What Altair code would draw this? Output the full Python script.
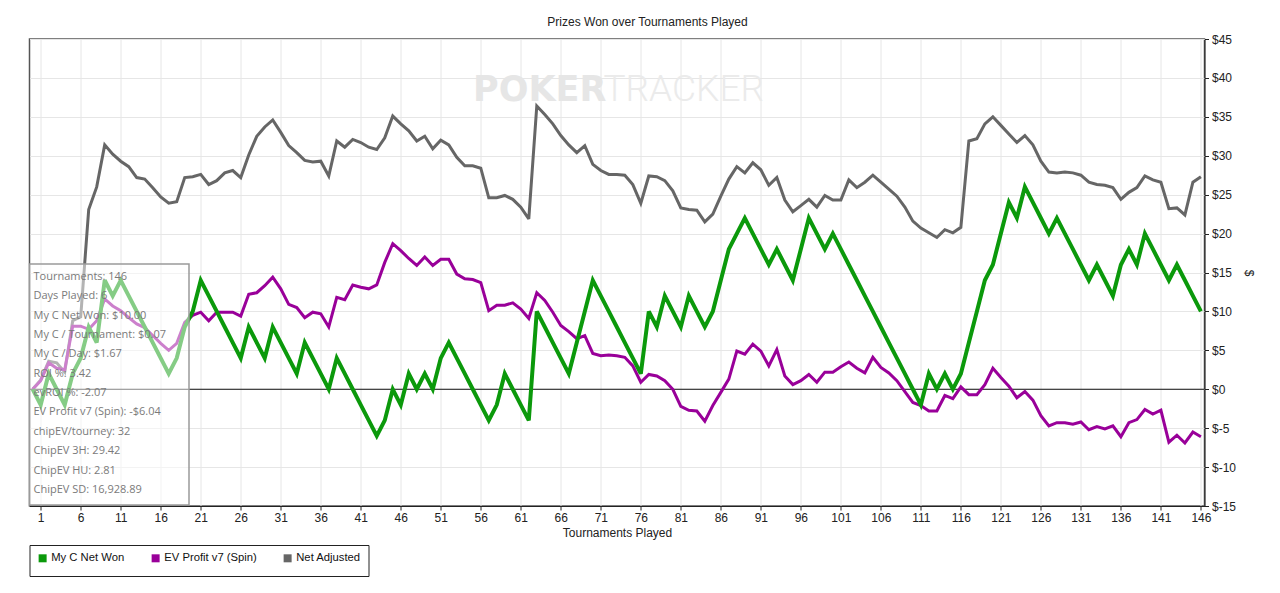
import altair as alt
import pandas as pd

# ---------------- data ----------------
TOURNAMENTS = list(range(0, 147))

MY_C_NET_WON = [
    0, -2, 2, 0, -2, 2, 4, 8, 6, 14,
    12, 14, 12, 10, 8, 6, 4, 2, 4, 8,
    10, 14, 12, 10, 8, 6, 4, 8, 6, 4,
    8, 6, 4, 2, 6, 4, 2, 0, 4, 2,
    0, -2, -4, -6, -4, 0, -2, 2, 0, 2,
    0, 4, 6, 4, 2, 0, -2, -4, -2, 2,
    0, -2, -4, 10, 8, 6, 4, 2, 6, 10,
    14, 12, 10, 8, 6, 4, 2, 10, 8, 12,
    10, 8, 12, 10, 8, 10, 14, 18, 20, 22,
    20, 18, 16, 18, 16, 14, 18, 22, 20, 18,
    20, 18, 16, 14, 12, 10, 8, 6, 4, 2,
    0, -2, 2, 0, 2, 0, 2, 6, 10, 14,
    16, 20, 24, 22, 26, 24, 22, 20, 22, 20,
    18, 16, 14, 16, 14, 12, 16, 18, 16, 20,
    18, 16, 14, 16, 14, 12, 10,
]

EV_PROFIT = [
    0, 1.1, 3.4, 2.7, 2.5, 8.1, 8.1, 7.7, 8.8, 11.6,
    10.7, 10.1, 9.2, 8.4, 7.9, 6.9, 5.9, 5.0, 5.9, 8.6,
    9.5, 9.9, 8.8, 9.9, 9.9, 9.9, 9.4, 12.2, 12.4, 13.3,
    14.4, 12.9, 10.9, 10.5, 9.2, 9.9, 9.7, 8.0, 11.8, 11.5,
    13.4, 13.1, 12.9, 13.4, 16.3, 18.7, 17.8, 16.8, 15.9, 17.0,
    15.9, 16.7, 16.7, 14.8, 14.2, 14.1, 13.7, 10.1, 10.8, 10.8,
    11.1, 10.3, 9.1, 12.4, 11.4, 9.9, 8.2, 7.4, 6.5, 6.9,
    4.6, 4.3, 4.4, 4.3, 4.1, 3.0, 0.9, 1.9, 1.7, 1.1,
    0.0, -2.2, -2.7, -2.8, -4.1, -2.1, -0.4, 1.3, 4.9, 4.5,
    5.8, 4.9, 3.0, 5.1, 1.7, 0.6, 1.1, 1.9, 0.9, 2.2,
    2.2, 2.9, 3.5, 2.7, 2.1, 4.1, 2.8, 2.1, 1.1, -0.3,
    -1.7, -2.1, -2.8, -2.8, -0.8, -1.2, 0.3, -0.7, -0.7, 0.6,
    2.7, 1.5, 0.4, -1.1, -0.3, -1.4, -3.4, -4.7, -4.3, -4.3,
    -4.5, -4.2, -5.2, -4.8, -5.1, -4.7, -6.1, -4.3, -3.9, -2.6,
    -3.2, -2.7, -6.8, -5.9, -6.9, -5.5, -6.1,
]

NET_ADJUSTED = [
    0, 1.2, 3.6, 3.4, 2.2, 8.8, 9.3, 23.1, 26.0, 31.4,
    30.2, 29.3, 28.6, 27.2, 27.0, 25.9, 24.7, 23.9, 24.1, 27.2,
    27.3, 27.6, 26.3, 26.8, 27.8, 28.1, 27.2, 30.1, 32.5, 33.7,
    34.6, 33.0, 31.3, 30.4, 29.4, 29.2, 29.3, 27.4, 31.9, 31.1,
    32.1, 31.7, 31.1, 30.8, 32.3, 35.1, 34.1, 33.2, 31.9, 32.5,
    30.9, 32.0, 31.4, 29.8, 28.7, 28.7, 28.4, 24.6, 24.6, 24.9,
    24.4, 23.4, 21.9, 36.4, 35.3, 34.1, 32.6, 31.4, 30.4, 31.3,
    28.9, 28.1, 27.6, 27.6, 27.5, 26.3, 23.9, 27.4, 27.3, 26.8,
    25.5, 23.3, 23.1, 23.0, 21.5, 22.5, 24.8, 27.0, 28.6, 27.8,
    29.1, 28.2, 26.2, 27.2, 24.3, 22.8, 23.6, 24.4, 23.4, 24.9,
    24.3, 24.3, 26.9, 25.9, 26.6, 27.5, 26.6, 25.7, 24.8, 23.4,
    21.6, 20.7, 20.1, 19.5, 20.5, 20.1, 20.8, 31.9, 32.2, 34.1,
    35.0, 33.9, 32.8, 31.7, 32.6, 31.4, 29.3, 27.9, 27.8, 27.9,
    27.8, 27.5, 26.6, 26.3, 26.2, 25.9, 24.4, 25.3, 25.9, 27.4,
    26.9, 26.6, 23.2, 23.3, 22.4, 26.6, 27.3,
]

SERIES = ["My C Net Won", "EV Profit v7 (Spin)", "Net Adjusted"]
COLORS = ["#0b990b", "#990099", "#666666"]
X_TICKS = list(range(1, 147, 5))
Y_TICKS = list(range(-15, 46, 5))

TITLE = "Prizes Won over Tournaments Played"
X_TITLE = "Tournaments Played"
Y_TITLE = "$"
WATERMARK = ["POKER", "TRACKER"]
INFO_LINES = [
    "Tournaments: 146",
    "Days Played: 6",
    "My C Net Won: $10.00",
    "My C / Tournament: $0.07",
    "My C / Day: $1.67",
    "ROI %: 3.42",
    "evROI %: -2.07",
    "EV Profit v7 (Spin): -$6.04",
    "chipEV/tourney: 32",
    "ChipEV 3H: 29.42",
    "ChipEV HU: 2.81",
    "ChipEV SD: 16,928.89",
]

# ---------------- build table ----------------
n = len(TOURNAMENTS)
df = pd.DataFrame({
    "t": TOURNAMENTS * 3,
    "value": MY_C_NET_WON + EV_PROFIT + NET_ADJUSTED,
    "series": [SERIES[0]] * n + [SERIES[1]] * n + [SERIES[2]] * n,
})
one = pd.DataFrame({"k": [0]})

FONT = "Liberation Sans"

x_scale = alt.Scale(domain=[-0.4, 146.45], nice=False, zero=False)
y_scale = alt.Scale(domain=[-15, 45], nice=False, zero=False)

x_axis = alt.Axis(
    values=X_TICKS, title=X_TITLE, grid=True, gridColor="#e6e6e6",
    domainColor="#222222", tickColor="#222222", tickSize=4,
    labelFont=FONT, labelFontSize=12, labelColor="#222222", labelPadding=2,
    labelFlush=False, labelOverlap=False,
    titleFont=FONT, titleFontSize=12, titleFontWeight="normal",
    titleColor="#222222", titlePadding=4,
)
y_axis = alt.Axis(
    orient="right", values=Y_TICKS, title=Y_TITLE, labelExpr="'$' + datum.value",
    grid=True, gridColor="#e6e6e6", domainColor="#222222", tickColor="#222222",
    tickSize=4, labelFont=FONT, labelFontSize=12, labelColor="#222222",
    labelPadding=3, labelFlush=False, labelOverlap=False,
    titleFont=FONT, titleFontSize=12, titleFontWeight="normal",
    titleColor="#222222", titleAngle=90, titlePadding=6,
)
color_scale = alt.Scale(domain=SERIES, range=COLORS)
legend = alt.Legend(
    title=None, orient="none", legendX=0, legendY=506, direction="horizontal",
    symbolType="square", symbolSize=16, symbolStrokeWidth=4,
    labelFont=FONT, labelFontSize=11.25, labelColor="#111111", labelOffset=3,
    columnPadding=20, padding=7.5, fillColor="white", strokeColor="#222222",
    labelLimit=0,
)


def series_layer(name, width):
    return (
        alt.Chart(df)
        .transform_filter(alt.datum.series == name)
        .mark_line(strokeWidth=width, strokeJoin="miter", strokeMiterLimit=3)
        .encode(
            x=alt.X("t:Q", scale=x_scale, axis=x_axis),
            y=alt.Y("value:Q", scale=y_scale, axis=y_axis),
            color=alt.Color("series:N", scale=color_scale, legend=legend),
        )
    )


wm_poker = alt.Chart(one).mark_text(
    font="DejaVu Sans", fontWeight="bold", fontSize=35, color="#e6e6e6",
    align="left", baseline="alphabetic",
).encode(x=alt.value(443.5), y=alt.value(62), text=alt.value(WATERMARK[0]))

wm_tracker = alt.Chart(one).mark_text(
    font="Roboto", fontWeight=300, fontSize=37, color="#ebebeb",
    align="left", baseline="alphabetic",
).encode(x=alt.value(574), y=alt.value(62), text=alt.value(WATERMARK[1]))

zero_rule = alt.Chart(one).mark_rule(color="#111111", strokeWidth=1).encode(
    y=alt.YDatum(0, scale=y_scale, axis=y_axis)
)

info_box = alt.Chart(one).mark_rect(
    fill="white", fillOpacity=0.5, stroke="#9a9a9a", strokeWidth=1.5,
).encode(x=alt.value(0), x2=alt.value(159.5), y=alt.value(225), y2=alt.value(466))

info_text = alt.Chart(one).mark_text(
    font="Open Sans", fontSize=11, color="#7a7a7a", align="left",
    baseline="top", lineHeight=19.35, text=INFO_LINES,
).encode(x=alt.value(4), y=alt.value(232))

title_text = alt.Chart(one).mark_text(
    font=FONT, fontSize=12, color="#222222", align="center", baseline="middle",
).encode(x=alt.value(618), y=alt.value(-17), text=alt.value(TITLE))

chart = alt.layer(
    wm_poker, wm_tracker, zero_rule,
    series_layer(SERIES[2], 3),
    series_layer(SERIES[1], 3),
    series_layer(SERIES[0], 4),
    info_box, info_text, title_text,
).properties(
    width=1175, height=467,
    padding={"left": 21.5, "top": 31, "right": 60, "bottom": 80},
    autosize=alt.AutoSizeParams(type="none"),
    background="white",
).configure_view(stroke="#555555", strokeWidth=1.5)

chart.save("out.html", embed_options={"renderer": "svg", "actions": False})
